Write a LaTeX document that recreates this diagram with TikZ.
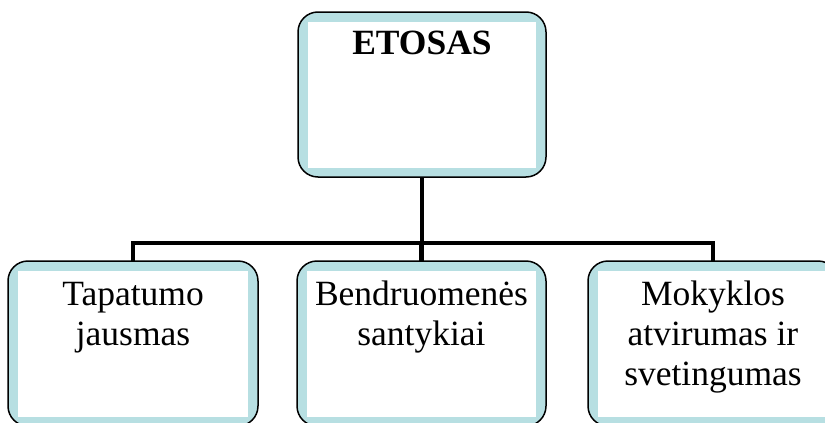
\documentclass[tikz,border=0pt]{standalone}
\usepackage{fontspec}
\setmainfont{Liberation Serif}
\begin{document}
\begin{tikzpicture}[x=1pt,y=-1pt,
  boxshape/.style={draw=black, line width=1.5pt, fill=bandblue, rounded corners=20pt,
    inner sep=0pt, outer sep=0pt,
    path picture={\fill[white, sharp corners] ([shift={(10pt,-10pt)}]path picture bounding box.north west)
       rectangle ([shift={(-10pt,9pt)}]path picture bounding box.south east);}},
  label/.style={align=center, anchor=base, inner sep=0pt,
    font=\fontsize{35.5}{40}\selectfont},
  link/.style={line width=4.5pt, black}]
\definecolor{bandblue}{HTML}{B7DFE2}
\useasboundingbox (0,0) rectangle (825,423);
\clip (0,0) rectangle (825,423);
% boxes
\node[boxshape, minimum width=248pt, minimum height=165pt] (top) at (422,94.5) {};
\node[boxshape, minimum width=250pt, minimum height=165pt] (left) at (133,343.5) {};
\node[boxshape, minimum width=249pt, minimum height=165pt] (mid) at (421.5,343.5) {};
\node[boxshape, minimum width=250pt, minimum height=165pt] (right) at (713,343.5) {};
% texts
\node[label, font=\fontsize{35.5}{40}\selectfont\bfseries] (toptext) at (422,54) {ETOSAS};
\node[label] (lefttext) at (133,345) {Tapatumo\\jausmas};
\node[label] (midtext) at (421.5,345) {Bendruomenės\\santykiai};
\node[label] (righttext) at (713,385) {Mokyklos\\atvirumas ir\\svetingumas};
% connectors
\coordinate (bus) at (422,243);
\draw[link] (top.south) -- (bus);
\draw[link] (left.north) -- (left.north |- bus) -- (right.north |- bus) -- (right.north);
\draw[link] (mid.north) -- (mid.north |- bus);
\end{tikzpicture}
\end{document}
